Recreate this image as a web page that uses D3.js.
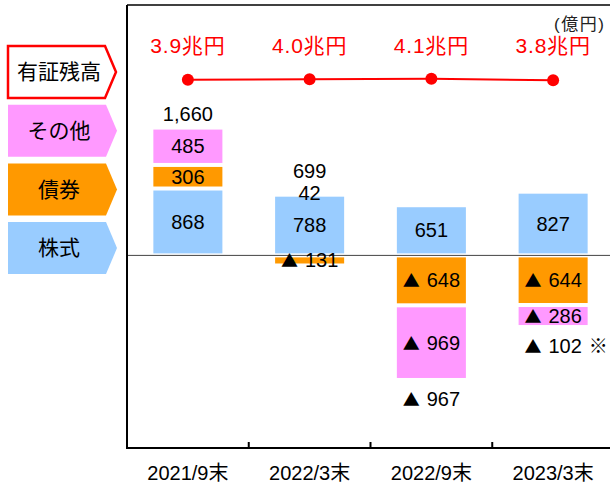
<!DOCTYPE html>
<html>
<head>
<meta charset="utf-8">
<script src="https://cdn.jsdelivr.net/npm/d3@7/dist/d3.min.js"></script>
<style>
  body { margin: 0; background: #fff; }
  svg text { font-family: "Liberation Sans", Arial, "Noto Sans CJK JP", sans-serif; }
</style>
</head>
<body>
<div id="chart"></div>
<script>
// data (億円)
const categories = ['2021/9末', '2022/3末', '2022/9末', '2023/3末'];
const seriesNames = ['株式', '債券', 'その他'];
const stocks = [868, 788, 651, 827];
const bonds  = [306, -131, -648, -644];
const others = [485, 42, -969, -286];
const totals = [1660, 699, -967, -102];
const totalNotes = ['', '', '', '※'];
// 有証残高 (兆円)
const holdings = [3.9, 4.0, 4.1, 3.8];
const legendNames = ['有証残高', 'その他', '債券', '株式'];
const unitLabel = '(億円)';

const width = 610, height = 487;
const plot = { left: 127, right: 614, top: 5, bottom: 448 };

const color = d3.scaleOrdinal()
  .domain(seriesNames)
  .range(['#99CCFF', '#FF9900', '#FF99FF']);

const svg = d3.select('#chart')
  .append('svg')
    .attr('width', width)
    .attr('height', height);

// scales
const x = d3.scaleBand()
  .domain(categories)
  .range([plot.left, plot.right])
  .padding(0);

const barW = x.bandwidth() * 0.567;

const y = d3.scaleLinear()
  .domain([-2500, 3250])
  .range([plot.bottom, plot.top]);

const yLine = d3.scaleLinear()
  .domain([3.8, 4.1])
  .range([80.3, 78.7]);

// stacked rows
const rows = categories.map((c, i) => ({
  cat: c, '株式': stocks[i], '債券': bonds[i], 'その他': others[i]
}));
const stacked = d3.stack()
  .keys(seriesNames)
  .offset(d3.stackOffsetDiverging)(rows);

// write a value into a text node, negatives get a ▲ mark
function writeValue(sel, v) {
  if (v < 0) {
    sel.append('tspan')
      .style('font-family', '"Noto Sans CJK JP", sans-serif')
      .attr('font-size', '0.85em')
      .text('▲');
    sel.append('tspan')
      .attr('dx', 7)
      .text(d3.format(',')(-v));
  } else {
    sel.text(d3.format(',')(v));
  }
}

// zero line
svg.append('line')
  .attr('x1', plot.left).attr('x2', width)
  .attr('y1', y(0)).attr('y2', y(0))
  .attr('stroke', '#444').attr('stroke-width', 1);

// bars
const inset = 2;
const segs = [];
stacked.forEach(s => {
  s.forEach((d, i) => {
    const y0 = y(Math.max(d[0], d[1]));
    const y1 = y(Math.min(d[0], d[1]));
    segs.push({ key: s.key, i, value: rows[i][s.key], top: y0, bottom: y1 });
  });
});

svg.append('g')
  .selectAll('rect')
  .data(segs)
  .join('rect')
    .attr('x', d => x(categories[d.i]) + (x.bandwidth() - barW) / 2)
    .attr('width', barW)
    .attr('y', d => d.top + inset)
    .attr('height', d => Math.max(0, d.bottom - d.top - 2 * inset))
    .attr('fill', d => color(d.key));

// segment labels
svg.append('g')
  .selectAll('text')
  .data(segs)
  .join('text')
    .attr('x', d => x(categories[d.i]) + x.bandwidth() / 2)
    .attr('y', d => (d.top + d.bottom) / 2)
    .attr('dy', '0.35em')
    .attr('text-anchor', 'middle')
    .attr('font-size', 20)
    .attr('fill', '#000')
    .each(function(d) { writeValue(d3.select(this), d.value); });

// totals
const totalG = svg.append('g');
totals.forEach((t, i) => {
  const cx = x(categories[i]) + x.bandwidth() / 2;
  let cy;
  if (t >= 0) {
    const pos = segs.filter(d => d.i === i && d.value > 0);
    const topSeg = pos.reduce((a, b) => (b.top < a.top ? b : a));
    const small = topSeg.bottom - topSeg.top < 12;
    const base = small ? (topSeg.top + topSeg.bottom) / 2 - 8 : topSeg.top;
    cy = base - 14;
  } else {
    const neg = segs.filter(d => d.i === i && d.value < 0);
    const bottom = d3.max(neg, d => d.bottom);
    cy = bottom + 19;
  }
  const txt = totalG.append('text')
    .attr('x', cx)
    .attr('y', cy)
    .attr('dy', '0.35em')
    .attr('text-anchor', 'middle')
    .attr('font-size', 20);
  writeValue(txt, t);
  if (totalNotes[i]) {
    const bb = txt.node().getBBox();
    totalG.append('text')
      .attr('x', bb.x + bb.width + 7)
      .attr('y', cy)
      .attr('dy', '0.35em')
      .attr('font-size', 19)
      .style('font-family', '"Noto Sans CJK JP", sans-serif')
      .text(totalNotes[i]);
  }
});

// 有証残高 line
const line = d3.line()
  .x((d, i) => x(categories[i]) + x.bandwidth() / 2)
  .y(d => yLine(d));

svg.append('path')
  .datum(holdings)
  .attr('d', line)
  .attr('fill', 'none')
  .attr('stroke', '#FF0000')
  .attr('stroke-width', 2);

svg.append('g')
  .selectAll('circle')
  .data(holdings)
  .join('circle')
    .attr('cx', (d, i) => x(categories[i]) + x.bandwidth() / 2)
    .attr('cy', d => yLine(d))
    .attr('r', 6)
    .attr('fill', '#FF0000');

svg.append('g')
  .selectAll('text')
  .data(holdings)
  .join('text')
    .attr('x', (d, i) => x(categories[i]) + x.bandwidth() / 2)
    .attr('y', 53)
    .attr('text-anchor', 'middle')
    .attr('font-size', 21)
    .attr('letter-spacing', 0.8)
    .attr('fill', '#FF0000')
    .text(d => d.toFixed(1) + '兆円');

// frame
svg.append('line')
  .attr('x1', plot.left).attr('x2', width)
  .attr('y1', plot.top).attr('y2', plot.top)
  .attr('stroke', '#000').attr('stroke-width', 1.5);
svg.append('line')
  .attr('x1', plot.left).attr('x2', plot.left)
  .attr('y1', plot.top).attr('y2', plot.bottom + 1)
  .attr('stroke', '#000').attr('stroke-width', 2);

// x axis
const xAxis = svg.append('g')
  .attr('transform', `translate(0,${plot.bottom})`);
xAxis.append('line')
  .attr('x1', plot.left).attr('x2', width)
  .attr('stroke', '#000').attr('stroke-width', 2);
xAxis.selectAll('line.tick')
  .data(categories.slice(1))
  .join('line')
    .attr('class', 'tick')
    .attr('x1', d => x(d)).attr('x2', d => x(d))
    .attr('y1', 0).attr('y2', -6)
    .attr('stroke', '#000').attr('stroke-width', 2);
xAxis.selectAll('text')
  .data(categories)
  .join('text')
    .attr('x', d => x(d) + x.bandwidth() / 2)
    .attr('y', 32)
    .attr('text-anchor', 'middle')
    .attr('font-size', 20)
    .text(d => d);

// unit
svg.append('text')
  .attr('x', 554)
  .attr('y', 30)
  .attr('font-size', 17)
  .attr('letter-spacing', 1.5)
  .attr('fill', '#222')
  .text(unitLabel);

// legend (arrow boxes)
const legendColor = { '有証残高': '#FFFFFF' };
const arrow = (w, h, tip) =>
  `M0,0 H${w - tip} L${w},${h / 2} L${w - tip},${h} H0 Z`;

const legend = svg.append('g')
  .selectAll('g')
  .data(legendNames)
  .join('g')
    .attr('transform', (d, i) => `translate(8,${46 + i * 58.7})`);

legend.append('path')
  .attr('d', d => d === '有証残高' ? arrow(108, 52, 11) : arrow(109, 52, 11))
  .attr('fill', d => legendColor[d] || color(d))
  .attr('stroke', d => d === '有証残高' ? '#FF0000' : 'none')
  .attr('stroke-width', 2.5);

legend.append('text')
  .attr('x', 51)
  .attr('y', 26)
  .attr('dy', '0.35em')
  .attr('text-anchor', 'middle')
  .attr('font-size', 21)
  .style('font-family', '"Noto Sans CJK JP", sans-serif')
  .text(d => d);
</script>
</body>
</html>
